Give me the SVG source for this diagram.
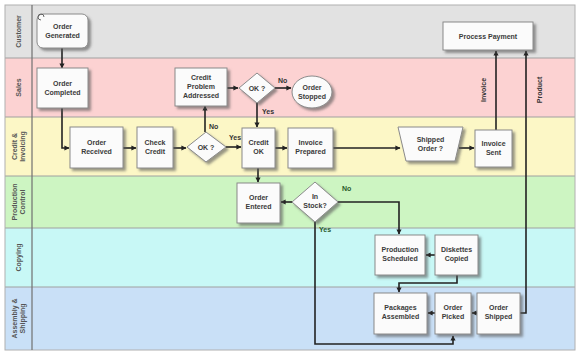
<svg xmlns="http://www.w3.org/2000/svg" width="578" height="353" viewBox="0 0 578 353">
<style>
.lane{stroke:none}
.sep{stroke:#a0a0a0;stroke-width:1}
.hdr{font-family:"Liberation Sans",Arial,sans-serif;font-size:7px;font-weight:bold;fill:#555;text-anchor:middle}
.box{fill:#fbfbfb;stroke:#8a8a8a;stroke-width:1;filter:url(#sh)}
.t{font-family:"Liberation Sans",Arial,sans-serif;font-size:7px;font-weight:bold;fill:#3a3a3a;text-anchor:middle}
.c{fill:none;stroke:#222;stroke-width:1.6;marker-end:url(#ah)}
.lb{font-family:"Liberation Sans",Arial,sans-serif;font-size:7px;font-weight:bold;fill:#333}
.lbg{font-family:"Liberation Sans",Arial,sans-serif;font-size:7px;font-weight:bold;fill:#2a5a2a}
</style>
<defs>
<filter id="sh" x="-20%" y="-20%" width="150%" height="150%">
<feDropShadow dx="2.5" dy="2.5" stdDeviation="1" flood-color="#555" flood-opacity="0.6"/>
</filter>
<marker id="ah" viewBox="0 0 10 10" refX="9" refY="5" markerWidth="3.2" markerHeight="3.2" orient="auto" markerUnits="strokeWidth">
<path d="M0,0 L10,5 L0,10 z" fill="#222"/>
</marker>
</defs>
<rect x="0" y="0" width="578" height="353" fill="#ffffff"/>
<g id="lanes">
<rect class="lane" x="5" y="5" width="570" height="53" fill="#e2e2e2"/>
<rect class="lane" x="5" y="58" width="570" height="59" fill="#fcd2d2"/>
<rect class="lane" x="5" y="117" width="570" height="59" fill="#fcf7c6"/>
<rect class="lane" x="5" y="176" width="570" height="52" fill="#cdf5c2"/>
<rect class="lane" x="5" y="228" width="570" height="59" fill="#c8f8f6"/>
<rect class="lane" x="5" y="287" width="570" height="63" fill="#c9e0f7"/>
<line class="sep" x1="5" y1="58" x2="575" y2="58"/>
<line class="sep" x1="5" y1="117" x2="575" y2="117"/>
<line class="sep" x1="5" y1="176" x2="575" y2="176"/>
<line class="sep" x1="5" y1="228" x2="575" y2="228"/>
<line class="sep" x1="5" y1="287" x2="575" y2="287"/>
<rect x="5" y="5" width="570" height="345" fill="none" stroke="#b0b0b0" stroke-width="1"/>
<line x1="32" y1="5" x2="32" y2="350" stroke="#707070" stroke-width="1.2"/>
<text class="hdr" transform="translate(21,31.5) rotate(-90)">Customer</text>
<text class="hdr" transform="translate(21,87.5) rotate(-90)">Sales</text>
<text class="hdr" transform="translate(17,146.5) rotate(-90)">Credit &amp;</text>
<text class="hdr" transform="translate(25,146.5) rotate(-90)">Invoicing</text>
<text class="hdr" transform="translate(17,202) rotate(-90)">Production</text>
<text class="hdr" transform="translate(25,202) rotate(-90)">Control</text>
<text class="hdr" transform="translate(21,257.5) rotate(-90)">Copying</text>
<text class="hdr" transform="translate(17,318.5) rotate(-90)">Assembly &amp;</text>
<text class="hdr" transform="translate(25,318.5) rotate(-90)">Shipping</text>
</g>
<g id="connectors">
<path class="c" d="M62,48 V68"/>
<path class="c" d="M62,108 V148 H69"/>
<path class="c" d="M123,148 H136"/>
<path class="c" d="M173,148 H186"/>
<path class="c" d="M226,147 H241"/>
<path class="c" d="M205,132 V106"/>
<path class="c" d="M227,88 H238"/>
<path class="c" d="M275,88 H291"/>
<path class="c" d="M257,103 V127"/>
<path class="c" d="M275,148 H287"/>
<path class="c" d="M333,148 H400"/>
<path class="c" d="M459,148 H474"/>
<path class="c" d="M496,130 V51"/>
<path class="c" d="M520,313 H526 V51"/>
<path class="c" d="M258,168 V182"/>
<path class="c" d="M292,202 H281"/>
<path class="c" d="M338,202 H399 V234"/>
<path class="c" d="M435,255 H426"/>
<path class="c" d="M457,275 V283 H399 V292"/>
<path class="c" d="M435,313 H428"/>
<path class="c" d="M477,313 H472"/>
<path class="c" d="M315,222 V344 H453 V336"/>
<text class="lb" x="229" y="140">Yes</text>
<text class="lb" x="209" y="129">No</text>
<text class="lb" x="278" y="83">No</text>
<text class="lb" x="262" y="114">Yes</text>
<text class="lbg" x="342" y="191">No</text>
<text class="lbg" x="319" y="232">Yes</text>
<text class="lb" transform="translate(486,90) rotate(-90)" text-anchor="middle">Invoice</text>
<text class="lb" transform="translate(542,90) rotate(-90)" text-anchor="middle">Product</text>
</g>
<g id="order-generated">
<rect class="box" x="37" y="14" width="51" height="34" rx="6"/>
<path d="M41,20 a3,3 0 1 1 3,-3" fill="none" stroke="#555" stroke-width="0.9"/>
<text class="t" x="62.5" y="29">Order</text>
<text class="t" x="62.5" y="38">Generated</text>
</g>
<g id="order-completed">
<rect class="box" x="37" y="68" width="51" height="40"/>
<text class="t" x="62.5" y="86">Order</text>
<text class="t" x="62.5" y="95">Completed</text>
</g>
<g id="credit-problem">
<rect class="box" x="175" y="68" width="52" height="38"/>
<text class="t" x="201" y="80">Credit</text>
<text class="t" x="201" y="89">Problem</text>
<text class="t" x="201" y="98">Addressed</text>
</g>
<g id="ok-sales">
<polygon class="box" points="257,73 275,88 257,103 239,88"/>
<text class="t" x="257" y="90.5">OK ?</text>
</g>
<g id="order-stopped">
<ellipse class="box" cx="312" cy="92" rx="20" ry="16"/>
<text class="t" x="312" y="90">Order</text>
<text class="t" x="312" y="99">Stopped</text>
</g>
<g id="order-received">
<rect class="box" x="70" y="127" width="53" height="41"/>
<text class="t" x="96.5" y="145">Order</text>
<text class="t" x="96.5" y="154">Received</text>
</g>
<g id="check-credit">
<rect class="box" x="137" y="127" width="36" height="41"/>
<text class="t" x="155" y="145">Check</text>
<text class="t" x="155" y="154">Credit</text>
</g>
<g id="ok-credit">
<polygon class="box" points="206,132 226,147 206,162 187,147"/>
<text class="t" x="206" y="149.5">OK ?</text>
</g>
<g id="credit-ok">
<rect class="box" x="242" y="128" width="33" height="40"/>
<text class="t" x="258.5" y="145">Credit</text>
<text class="t" x="258.5" y="154">OK</text>
</g>
<g id="invoice-prepared">
<rect class="box" x="288" y="128" width="45" height="40"/>
<text class="t" x="310.5" y="145">Invoice</text>
<text class="t" x="310.5" y="154">Prepared</text>
</g>
<g id="shipped-order">
<polygon class="box" points="398,127 463,127 455,161 406,161"/>
<text class="t" x="430.5" y="142">Shipped</text>
<text class="t" x="430.5" y="151">Order ?</text>
</g>
<g id="invoice-sent">
<rect class="box" x="475" y="130" width="37" height="37"/>
<text class="t" x="493.5" y="146">Invoice</text>
<text class="t" x="493.5" y="155">Sent</text>
</g>
<g id="process-payment">
<rect class="box" x="443" y="22" width="90" height="28"/>
<text class="t" x="488" y="38.5">Process Payment</text>
</g>
<g id="order-entered">
<rect class="box" x="237" y="183" width="43" height="40"/>
<text class="t" x="258.5" y="200">Order</text>
<text class="t" x="258.5" y="209">Entered</text>
</g>
<g id="in-stock">
<polygon class="box" points="315,182 338,202 315,222 292,202"/>
<text class="t" x="315" y="199">In</text>
<text class="t" x="315" y="208">Stock?</text>
</g>
<g id="production-scheduled">
<rect class="box" x="375" y="235" width="50" height="40"/>
<text class="t" x="400" y="252">Production</text>
<text class="t" x="400" y="261">Scheduled</text>
</g>
<g id="diskettes-copied">
<rect class="box" x="435" y="235" width="43" height="40"/>
<text class="t" x="456.5" y="252">Diskettes</text>
<text class="t" x="456.5" y="261">Copied</text>
</g>
<g id="packages-assembled">
<rect class="box" x="374" y="293" width="53" height="41"/>
<text class="t" x="400.5" y="310">Packages</text>
<text class="t" x="400.5" y="319">Assembled</text>
</g>
<g id="order-picked">
<rect class="box" x="435" y="293" width="36" height="41"/>
<text class="t" x="453" y="310">Order</text>
<text class="t" x="453" y="319">Picked</text>
</g>
<g id="order-shipped">
<rect class="box" x="477" y="293" width="43" height="41"/>
<text class="t" x="498.5" y="310">Order</text>
<text class="t" x="498.5" y="319">Shipped</text>
</g>
</svg>
